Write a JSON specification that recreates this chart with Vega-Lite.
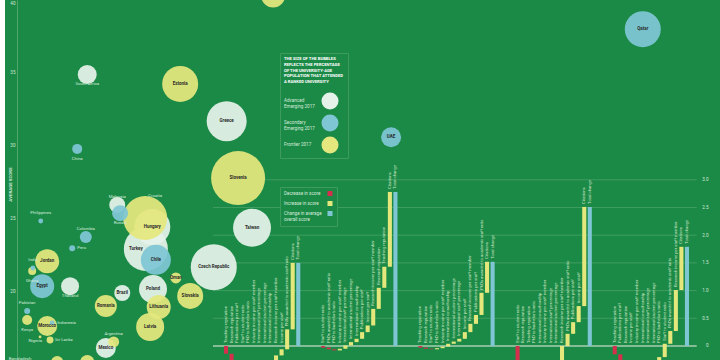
{
  "$schema": "https://vega.github.io/schema/vega-lite/v6.json",
  "width": 720,
  "height": 360,
  "autosize": {"type": "fit", "contains": "padding"},
  "padding": {"left": 5, "top": 0, "right": 0, "bottom": 0},
  "background": "#ffffff",
  "config": {
    "view": {"fill": "#1c8a47", "stroke": null},
    "font": "Roboto"
  },
  "datasets": {
    "bubbles": [
      {"country": "Slovenia", "market": "Frontier 2017", "index": 32.6, "score": 27.8, "share": 36.5, "lab": "in"},
      {"country": "Czech Republic", "market": "Advanced Emerging 2017", "index": 29.2, "score": 21.7, "share": 26.5, "lab": "in"},
      {"country": "Turkey", "market": "Advanced Emerging 2017", "index": 19.7, "score": 22.95, "share": 24.2, "lab": "inL"},
      {"country": "Hungary", "market": "Advanced Emerging 2017", "index": 20.6, "score": 24.45, "share": 16.2, "lab": "in"},
      {"country": "Croatia", "market": "Frontier 2017", "index": 19.6, "score": 25.07, "share": 24.2, "lab": "above2"},
      {"country": "Greece", "market": "Advanced Emerging 2017", "index": 31.0, "score": 31.7, "share": 20, "lab": "in"},
      {"country": "Taiwan", "market": "Advanced Emerging 2017", "index": 34.55, "score": 24.4, "share": 18, "lab": "in"},
      {"country": "Estonia", "market": "Frontier 2017", "index": 24.5, "score": 34.25, "share": 16.2, "lab": "in"},
      {"country": "Qatar", "market": "Secondary Emerging 2017", "index": 89.2, "score": 38.0, "share": 16.2, "lab": "in"},
      {"country": "Chile", "market": "Secondary Emerging 2017", "index": 21.1, "score": 22.2, "share": 11.25, "lab": "in"},
      {"country": "Poland", "market": "Advanced Emerging 2017", "index": 20.7, "score": 20.2, "share": 9.8, "lab": "in"},
      {"country": "Lithuania", "market": "Frontier 2017", "index": 21.5, "score": 18.97, "share": 7.2, "lab": "in"},
      {"country": "Latvia", "market": "Frontier 2017", "index": 20.3, "score": 17.6, "share": 9.8, "lab": "in"},
      {"country": "Slovakia", "market": "Frontier 2017", "index": 25.9, "score": 19.73, "share": 8.45, "lab": "in"},
      {"country": "", "market": "Frontier 2017", "index": 37.5, "score": 40.3, "share": 7.2, "lab": "none"},
      {"country": "Jordan", "market": "Frontier 2017", "index": 5.9, "score": 22.1, "share": 7.2, "lab": "in"},
      {"country": "Egypt", "market": "Secondary Emerging 2017", "index": 5.2, "score": 20.4, "share": 7.2, "lab": "in"},
      {"country": "Romania", "market": "Frontier 2017", "index": 14.1, "score": 19.04, "share": 6.05, "lab": "in"},
      {"country": "Mexico", "market": "Advanced Emerging 2017", "index": 14.1, "score": 16.16, "share": 5, "lab": "in"},
      {"country": "Argentina", "market": "Frontier 2017", "index": 15.2, "score": 16.58, "share": 1.5, "lab": "above"},
      {"country": "Morocco", "market": "Frontier 2017", "index": 5.9, "score": 17.67, "share": 5, "lab": "in"},
      {"country": "Indonesia", "market": "Secondary Emerging 2017", "index": 6.6, "score": 17.88, "share": 0.3, "lab": "right"},
      {"country": "UAE", "market": "Secondary Emerging 2017", "index": 54.0, "score": 30.6, "share": 5, "lab": "in"},
      {"country": "South Africa", "market": "Advanced Emerging 2017", "index": 11.5, "score": 34.9, "share": 4.5, "lab": "below2"},
      {"country": "Thailand", "market": "Advanced Emerging 2017", "index": 9.1, "score": 20.4, "share": 4.05, "lab": "below2"},
      {"country": "Malaysia", "market": "Advanced Emerging 2017", "index": 15.7, "score": 25.96, "share": 3.2, "lab": "above"},
      {"country": "Russia", "market": "Secondary Emerging 2017", "index": 16.1, "score": 25.4, "share": 3.2, "lab": "below"},
      {"country": "Brazil", "market": "Advanced Emerging 2017", "index": 16.4, "score": 19.93, "share": 3.2, "lab": "in"},
      {"country": "", "market": "Frontier 2017", "index": 11.5, "score": 15.2, "share": 2.45, "lab": "none"},
      {"country": "", "market": "Frontier 2017", "index": 7.3, "score": 15.2, "share": 1.8, "lab": "none"},
      {"country": "Colombia", "market": "Secondary Emerging 2017", "index": 11.3, "score": 23.77, "share": 1.8, "lab": "above"},
      {"country": "Oman", "market": "Frontier 2017", "index": 23.9, "score": 20.96, "share": 1.5, "lab": "in"},
      {"country": "China", "market": "Secondary Emerging 2017", "index": 10.1, "score": 29.8, "share": 1.25, "lab": "below"},
      {"country": "Kenya", "market": "Frontier 2017", "index": 3.1, "score": 18.08, "share": 1.25, "lab": "below"},
      {"country": "Ghana", "market": "Frontier 2017", "index": 3.8, "score": 21.44, "share": 0.8, "lab": "below"},
      {"country": "India", "market": "Secondary Emerging 2017", "index": 3.9, "score": 21.64, "share": 0.3, "lab": "above1"},
      {"country": "Sri Lanka", "market": "Frontier 2017", "index": 6.3, "score": 16.71, "share": 0.6, "lab": "right"},
      {"country": "Bangladesh", "market": "Frontier 2017", "index": 2.1, "score": 14.86, "share": 0.6, "lab": "above1"},
      {"country": "Peru", "market": "Secondary Emerging 2017", "index": 9.4, "score": 23.0, "share": 0.45, "lab": "right"},
      {"country": "Pakistan", "market": "Secondary Emerging 2017", "index": 3.1, "score": 18.7, "share": 0.45, "lab": "above1"},
      {"country": "Philippines", "market": "Secondary Emerging 2017", "index": 5.0, "score": 24.86, "share": 0.3, "lab": "above1"},
      {"country": "Nigeria", "market": "Frontier 2017", "index": 4.9, "score": 16.92, "share": 0.1, "lab": "left"}
    ],
    "grid": [{"v": 0}, {"v": 0.5}, {"v": 1}, {"v": 1.5}, {"v": 2}, {"v": 2.5}, {"v": 3}],
    "bars": [
      {"group": "G1", "step": 1, "metric": "Teaching reputation", "kind": "Decrease in score", "start": 0, "end": -0.14},
      {"group": "G1", "step": 2, "metric": "Research reputation", "kind": "Decrease in score", "start": -0.14, "end": -0.34},
      {"group": "G1", "step": 3, "metric": "Publications per staff", "kind": "Decrease in score", "start": -0.34, "end": -0.45},
      {"group": "G1", "step": 4, "metric": "Staff to student ratio", "kind": "Decrease in score", "start": -0.45, "end": -0.5},
      {"group": "G1", "step": 5, "metric": "PhD to bachelor's ratio", "kind": "Increase in score", "start": -0.5, "end": -0.47},
      {"group": "G1", "step": 6, "metric": "Industry income per staff member", "kind": "Increase in score", "start": -0.47, "end": -0.43},
      {"group": "G1", "step": 7, "metric": "International staff percentage", "kind": "Increase in score", "start": -0.43, "end": -0.38},
      {"group": "G1", "step": 8, "metric": "International student percentage", "kind": "Increase in score", "start": -0.38, "end": -0.32},
      {"group": "G1", "step": 9, "metric": "International co-authorship", "kind": "Increase in score", "start": -0.32, "end": -0.26},
      {"group": "G1", "step": 10, "metric": "Research income per staff member", "kind": "Increase in score", "start": -0.26, "end": -0.17},
      {"group": "G1", "step": 11, "metric": "Income per staff", "kind": "Increase in score", "start": -0.17, "end": -0.06},
      {"group": "G1", "step": 12, "metric": "PhDs awarded to academic staff ratio", "kind": "Increase in score", "start": -0.06, "end": 0.3},
      {"group": "G1", "step": 13, "metric": "Citations", "kind": "Increase in score", "start": 0.3, "end": 1.5},
      {"group": "G1", "step": 14, "metric": "Total change", "kind": "Change in average overall score", "start": 0, "end": 1.5},
      {"group": "G2", "step": 1, "metric": "Staff to student ratio", "kind": "Decrease in score", "start": 0, "end": -0.03},
      {"group": "G2", "step": 2, "metric": "PhDs awarded to academic staff ratio", "kind": "Decrease in score", "start": -0.03, "end": -0.06},
      {"group": "G2", "step": 3, "metric": "PhD to bachelor's ratio", "kind": "Decrease in score", "start": -0.06, "end": -0.08},
      {"group": "G2", "step": 4, "metric": "Industry income per staff member", "kind": "Increase in score", "start": -0.08, "end": -0.05},
      {"group": "G2", "step": 5, "metric": "International staff percentage", "kind": "Increase in score", "start": -0.05, "end": 0.01},
      {"group": "G2", "step": 6, "metric": "International student percentage", "kind": "Increase in score", "start": 0.01, "end": 0.07},
      {"group": "G2", "step": 7, "metric": "International co-authorship", "kind": "Increase in score", "start": 0.07, "end": 0.13},
      {"group": "G2", "step": 8, "metric": "Publications per staff", "kind": "Increase in score", "start": 0.13, "end": 0.25},
      {"group": "G2", "step": 9, "metric": "Income per staff", "kind": "Increase in score", "start": 0.25, "end": 0.37},
      {"group": "G2", "step": 10, "metric": "Research income per staff member", "kind": "Increase in score", "start": 0.37, "end": 0.67},
      {"group": "G2", "step": 11, "metric": "Research reputation", "kind": "Increase in score", "start": 0.67, "end": 1.05},
      {"group": "G2", "step": 12, "metric": "Teaching reputation", "kind": "Increase in score", "start": 1.05, "end": 1.43},
      {"group": "G2", "step": 13, "metric": "Citations", "kind": "Increase in score", "start": 1.43, "end": 2.78},
      {"group": "G2", "step": 14, "metric": "Total change", "kind": "Change in average overall score", "start": 0, "end": 2.78},
      {"group": "G3", "step": 1, "metric": "Teaching reputation", "kind": "Decrease in score", "start": 0, "end": -0.03},
      {"group": "G3", "step": 2, "metric": "Research reputation", "kind": "Decrease in score", "start": -0.03, "end": -0.05},
      {"group": "G3", "step": 3, "metric": "Staff to student ratio", "kind": "Decrease in score", "start": -0.05, "end": -0.06},
      {"group": "G3", "step": 4, "metric": "PhD to bachelor's ratio", "kind": "Increase in score", "start": -0.06, "end": -0.04},
      {"group": "G3", "step": 5, "metric": "Industry income per staff member", "kind": "Increase in score", "start": -0.04, "end": -0.01},
      {"group": "G3", "step": 6, "metric": "International co-authorship", "kind": "Increase in score", "start": -0.01, "end": 0.04},
      {"group": "G3", "step": 7, "metric": "International student percentage", "kind": "Increase in score", "start": 0.04, "end": 0.08},
      {"group": "G3", "step": 8, "metric": "International staff percentage", "kind": "Increase in score", "start": 0.08, "end": 0.13},
      {"group": "G3", "step": 9, "metric": "Income per staff", "kind": "Increase in score", "start": 0.13, "end": 0.25},
      {"group": "G3", "step": 10, "metric": "Research income per staff member", "kind": "Increase in score", "start": 0.25, "end": 0.4},
      {"group": "G3", "step": 11, "metric": "Publications per staff", "kind": "Increase in score", "start": 0.4, "end": 0.56},
      {"group": "G3", "step": 12, "metric": "PhDs awarded to academic staff ratio", "kind": "Increase in score", "start": 0.56, "end": 0.96},
      {"group": "G3", "step": 13, "metric": "Citations", "kind": "Increase in score", "start": 0.96, "end": 1.52},
      {"group": "G3", "step": 14, "metric": "Total change", "kind": "Change in average overall score", "start": 0, "end": 1.52},
      {"group": "G4", "step": 1, "metric": "Staff to student ratio", "kind": "Decrease in score", "start": 0, "end": -0.35},
      {"group": "G4", "step": 2, "metric": "Research reputation", "kind": "Decrease in score", "start": -0.35, "end": -0.5},
      {"group": "G4", "step": 3, "metric": "Teaching reputation", "kind": "Decrease in score", "start": -0.5, "end": -0.56},
      {"group": "G4", "step": 4, "metric": "PhD to bachelor's ratio", "kind": "Increase in score", "start": -0.56, "end": -0.53},
      {"group": "G4", "step": 5, "metric": "International co-authorship", "kind": "Increase in score", "start": -0.53, "end": -0.49},
      {"group": "G4", "step": 6, "metric": "Industry income per staff member", "kind": "Increase in score", "start": -0.49, "end": -0.44},
      {"group": "G4", "step": 7, "metric": "International staff percentage", "kind": "Increase in score", "start": -0.44, "end": -0.37},
      {"group": "G4", "step": 8, "metric": "International student percentage", "kind": "Increase in score", "start": -0.37, "end": -0.28},
      {"group": "G4", "step": 9, "metric": "Research income per staff member", "kind": "Increase in score", "start": -0.28, "end": 0.0},
      {"group": "G4", "step": 10, "metric": "PhDs awarded to academic staff ratio", "kind": "Increase in score", "start": 0.0, "end": 0.22},
      {"group": "G4", "step": 11, "metric": "Publications per staff", "kind": "Increase in score", "start": 0.22, "end": 0.43},
      {"group": "G4", "step": 12, "metric": "Income per staff", "kind": "Increase in score", "start": 0.43, "end": 0.72},
      {"group": "G4", "step": 13, "metric": "Citations", "kind": "Increase in score", "start": 0.72, "end": 2.51},
      {"group": "G4", "step": 14, "metric": "Total change", "kind": "Change in average overall score", "start": 0, "end": 2.51},
      {"group": "G5", "step": 1, "metric": "Teaching reputation", "kind": "Decrease in score", "start": 0, "end": -0.15},
      {"group": "G5", "step": 2, "metric": "Publications per staff", "kind": "Decrease in score", "start": -0.15, "end": -0.3},
      {"group": "G5", "step": 3, "metric": "Research reputation", "kind": "Decrease in score", "start": -0.3, "end": -0.38},
      {"group": "G5", "step": 4, "metric": "Income per staff", "kind": "Increase in score", "start": -0.38, "end": -0.37},
      {"group": "G5", "step": 5, "metric": "Industry income per staff member", "kind": "Increase in score", "start": -0.37, "end": -0.35},
      {"group": "G5", "step": 6, "metric": "International co-authorship", "kind": "Increase in score", "start": -0.35, "end": -0.33},
      {"group": "G5", "step": 7, "metric": "International staff percentage", "kind": "Increase in score", "start": -0.33, "end": -0.3},
      {"group": "G5", "step": 8, "metric": "International student percentage", "kind": "Increase in score", "start": -0.3, "end": -0.26},
      {"group": "G5", "step": 9, "metric": "PhD to bachelor's ratio", "kind": "Increase in score", "start": -0.26, "end": -0.2},
      {"group": "G5", "step": 10, "metric": "Staff to student ratio", "kind": "Increase in score", "start": -0.2, "end": 0.04},
      {"group": "G5", "step": 11, "metric": "PhDs awarded to academic staff ratio", "kind": "Increase in score", "start": 0.04, "end": 0.27},
      {"group": "G5", "step": 12, "metric": "Research income per staff member", "kind": "Increase in score", "start": 0.27, "end": 1.01},
      {"group": "G5", "step": 13, "metric": "Citations", "kind": "Increase in score", "start": 1.01, "end": 1.79},
      {"group": "G5", "step": 14, "metric": "Total change", "kind": "Change in average overall score", "start": 0, "end": 1.79}
    ]
  },
  "layer": [
    {
      "data": {"name": "grid"},
      "transform": [{"filter": "datum.v > 0"}],
      "mark": {"type": "rule", "color": "#48a267", "strokeWidth": 0.8, "xOffset": -11, "x2Offset": 84},
      "encoding": {
        "x": {"datum": "G1", "type": "nominal", "bandPosition": 0, "scale": {"type": "band", "domain": ["G1", "G2", "G3", "G4", "G5"], "range": [219, 684], "paddingInner": 0.215, "paddingOuter": 0}, "axis": null},
        "x2": {"datum": "G5", "bandPosition": 0},
        "y": {"field": "v", "type": "quantitative", "scale": {"domain": [-0.253, 6.245]}, "axis": null}
      }
    },
    {
      "data": {"name": "grid"},
      "transform": [{"filter": "datum.v == 0"}],
      "mark": {"type": "rule", "color": "#a7cdb2", "strokeWidth": 1.4, "xOffset": -11, "x2Offset": 84},
      "encoding": {
        "x": {"datum": "G1", "type": "nominal", "bandPosition": 0, "scale": {"type": "band", "domain": ["G1", "G2", "G3", "G4", "G5"], "range": [219, 684], "paddingInner": 0.215, "paddingOuter": 0}, "axis": null},
        "x2": {"datum": "G5", "bandPosition": 0},
        "y": {"field": "v", "type": "quantitative", "scale": {"domain": [-0.253, 6.245]}, "axis": null}
      }
    },
    {
      "data": {"name": "bars"},
      "mark": {"type": "bar", "clip": true},
      "encoding": {
        "x": {"field": "group", "type": "nominal", "scale": {"type": "band", "domain": ["G1", "G2", "G3", "G4", "G5"], "range": [219, 684], "paddingInner": 0.215, "paddingOuter": 0}, "axis": null},
        "xOffset": {"field": "step", "type": "ordinal", "scale": {"paddingInner": 0.27, "paddingOuter": 0}},
        "y": {"field": "start", "type": "quantitative", "scale": {"domain": [-0.253, 6.245]},
          "axis": {"orient": "right", "offset": -12, "values": [0, 0.5, 1, 1.5, 2, 2.5, 3], "ticks": false, "domain": false, "grid": false, "labelPadding": 0, "labelAlign": "right", "labelFontSize": 4.6, "labelColor": "#cfe6d5", "labelExpr": "datum.value == 0 ? '0' : format(datum.value, '.1f')", "title": null}},
        "y2": {"field": "end"},
        "color": {"field": "kind", "type": "nominal",
          "scale": {"domain": ["Decrease in score", "Increase in score", "Change in average overall score"], "range": ["#d42f4d", "#e4e87c", "#7fc6d5"]},
          "legend": {"orient": "none", "legendX": 275, "legendY": 187, "title": null, "symbolType": "square", "symbolSize": 25, "symbolOffset": 43.5, "labelOffset": -48.5, "labelFontSize": 4.6, "labelColor": "#d5ebdb", "labelLineHeight": 6, "labelExpr": "split(replace(datum.label, ' overall', '|overall'), '|')", "rowPadding": 4, "padding": 4, "strokeColor": "#3d9b5d", "fillColor": "#1c8a47", "symbolStrokeWidth": 0}}
      }
    },
    {
      "data": {"name": "bars"},
      "transform": [{"filter": "datum.kind == 'Decrease in score'"}],
      "mark": {"type": "text", "angle": 270, "align": "left", "baseline": "middle", "dx": 17, "fontSize": 4.2, "color": "#d3e9c9", "clip": true},
      "encoding": {
        "x": {"field": "group", "type": "nominal", "scale": {"type": "band", "domain": ["G1", "G2", "G3", "G4", "G5"], "range": [219, 684], "paddingInner": 0.215, "paddingOuter": 0}, "axis": null},
        "xOffset": {"field": "step", "type": "ordinal"},
        "y": {"field": "start", "type": "quantitative", "scale": {"domain": [0, 6.495], "clamp": true}, "axis": null},
        "text": {"field": "metric"}
      }
    },
    {
      "data": {"name": "bars"},
      "transform": [{"filter": "datum.kind != 'Decrease in score'"}],
      "mark": {"type": "text", "angle": 270, "align": "left", "baseline": "middle", "dx": 17, "fontSize": 4.2, "color": "#d3e9c9", "clip": true},
      "encoding": {
        "x": {"field": "group", "type": "nominal", "scale": {"type": "band", "domain": ["G1", "G2", "G3", "G4", "G5"], "range": [219, 684], "paddingInner": 0.215, "paddingOuter": 0}, "axis": null},
        "xOffset": {"field": "step", "type": "ordinal"},
        "y": {"field": "end", "type": "quantitative", "scale": {"domain": [0, 6.495], "clamp": true}, "axis": null},
        "text": {"field": "metric"}
      }
    },
    {
      "data": {"name": "bubbles"},
      "mark": {"type": "circle", "clip": true, "opacity": 0.93},
      "encoding": {
        "x": {"field": "index", "type": "quantitative", "scale": {"domain": [0, 100]}, "axis": null},
        "y": {"field": "score", "type": "quantitative", "scale": {"domain": [15.34, 40]},
          "axis": {"orient": "left", "offset": -12, "values": [20, 25, 30, 35, 40], "ticks": false, "grid": false, "domain": true, "domainColor": "#5eab78", "domainWidth": 0.8, "labelPadding": 2, "labelFontSize": 4.6, "labelColor": "#cfe6d5", "labelFlush": true, "title": "AVERAGE SCORE", "titleFontSize": 4.4, "titleFontWeight": "bold", "titleColor": "#cfe6d5", "titleX": -7, "titleY": 184, "titleAngle": 270, "titleAlign": "center", "titleBaseline": "middle"}},
        "size": {"field": "share", "type": "quantitative", "scale": {"domain": [0, 40], "range": [0, 3200]}, "legend": null},
        "color": {"field": "market", "type": "nominal",
          "scale": {"domain": ["Advanced Emerging 2017", "Secondary Emerging 2017", "Frontier 2017"], "range": ["#e5f2e9", "#7fc6d5", "#e4e77d"]},
          "legend": {"orient": "none", "legendX": 275, "legendY": 53, "title": ["THE SIZE OF THE BUBBLES", "REFLECTS THE PERCENTAGE", "OF THE UNIVERSITY-AGE", "POPULATION THAT ATTENDED", "A RANKED UNIVERSITY"], "titleFontSize": 4.2, "titleFontWeight": "bold", "titleColor": "#ffffff", "titleLineHeight": 5.8, "titlePadding": 8, "titleLimit": 0, "symbolType": "circle", "symbolSize": 289, "symbolOpacity": 1, "symbolStrokeWidth": 0, "symbolOffset": 37.5, "labelOffset": -54.5, "labelFontSize": 4.6, "labelColor": "#d5ebdb", "labelLineHeight": 6, "labelExpr": "split(replace(datum.label, ' Emerging', '|Emerging'), '|')", "rowPadding": 5, "padding": 4, "strokeColor": "#3d9b5d", "fillColor": "#1c8a47"}}
      }
    },
    {
      "data": {"name": "bubbles"},
      "transform": [{"filter": "datum.lab == 'in'"}],
      "mark": {"type": "text", "fontSize": 4.5, "fontWeight": "bold", "color": "#2b2b2b", "clip": true},
      "encoding": {
        "x": {"field": "index", "type": "quantitative", "scale": {"domain": [0, 100]}, "axis": null},
        "y": {"field": "score", "type": "quantitative", "scale": {"domain": [15.34, 40]}, "axis": null},
        "text": {"field": "country"}
      }
    },
    {
      "data": {"name": "bubbles"},
      "transform": [{"filter": "datum.lab == 'inL'"}],
      "mark": {"type": "text", "fontSize": 4.5, "fontWeight": "bold", "color": "#2b2b2b", "dx": -10, "clip": true},
      "encoding": {
        "x": {"field": "index", "type": "quantitative", "scale": {"domain": [0, 100]}, "axis": null},
        "y": {"field": "score", "type": "quantitative", "scale": {"domain": [15.34, 40]}, "axis": null},
        "text": {"field": "country"}
      }
    },
    {
      "data": {"name": "bubbles"},
      "transform": [{"filter": "datum.lab == 'below' || datum.lab == 'below2'"}],
      "mark": {"type": "text", "fontSize": 4.3, "color": "#d5ebdb", "dy": 10, "clip": true},
      "encoding": {
        "x": {"field": "index", "type": "quantitative", "scale": {"domain": [0, 100]}, "axis": null},
        "y": {"field": "score", "type": "quantitative", "scale": {"domain": [15.34, 40]}, "axis": null},
        "text": {"field": "country"}
      }
    },
    {
      "data": {"name": "bubbles"},
      "transform": [{"filter": "datum.lab == 'above' || datum.lab == 'above1'"}],
      "mark": {"type": "text", "fontSize": 4.3, "color": "#d5ebdb", "dy": -8, "clip": true},
      "encoding": {
        "x": {"field": "index", "type": "quantitative", "scale": {"domain": [0, 100]}, "axis": null},
        "y": {"field": "score", "type": "quantitative", "scale": {"domain": [15.34, 40]}, "axis": null},
        "text": {"field": "country"}
      }
    },
    {
      "data": {"name": "bubbles"},
      "transform": [{"filter": "datum.lab == 'above2'"}],
      "mark": {"type": "text", "fontSize": 4.3, "color": "#d5ebdb", "dx": 10, "dy": -22, "clip": true},
      "encoding": {
        "x": {"field": "index", "type": "quantitative", "scale": {"domain": [0, 100]}, "axis": null},
        "y": {"field": "score", "type": "quantitative", "scale": {"domain": [15.34, 40]}, "axis": null},
        "text": {"field": "country"}
      }
    },
    {
      "data": {"name": "bubbles"},
      "transform": [{"filter": "datum.lab == 'right'"}],
      "mark": {"type": "text", "fontSize": 4.3, "color": "#d5ebdb", "align": "left", "dx": 5, "clip": true},
      "encoding": {
        "x": {"field": "index", "type": "quantitative", "scale": {"domain": [0, 100]}, "axis": null},
        "y": {"field": "score", "type": "quantitative", "scale": {"domain": [15.34, 40]}, "axis": null},
        "text": {"field": "country"}
      }
    },
    {
      "data": {"name": "bubbles"},
      "transform": [{"filter": "datum.lab == 'left'"}],
      "mark": {"type": "text", "fontSize": 4.3, "color": "#d5ebdb", "align": "right", "dx": 2, "dy": 4, "clip": true},
      "encoding": {
        "x": {"field": "index", "type": "quantitative", "scale": {"domain": [0, 100]}, "axis": null},
        "y": {"field": "score", "type": "quantitative", "scale": {"domain": [15.34, 40]}, "axis": null},
        "text": {"field": "country"}
      }
    }
  ],
  "resolve": {"scale": {"x": "independent", "y": "independent", "color": "independent"}, "axis": {"x": "independent", "y": "independent"}, "legend": {"color": "independent"}}
}
